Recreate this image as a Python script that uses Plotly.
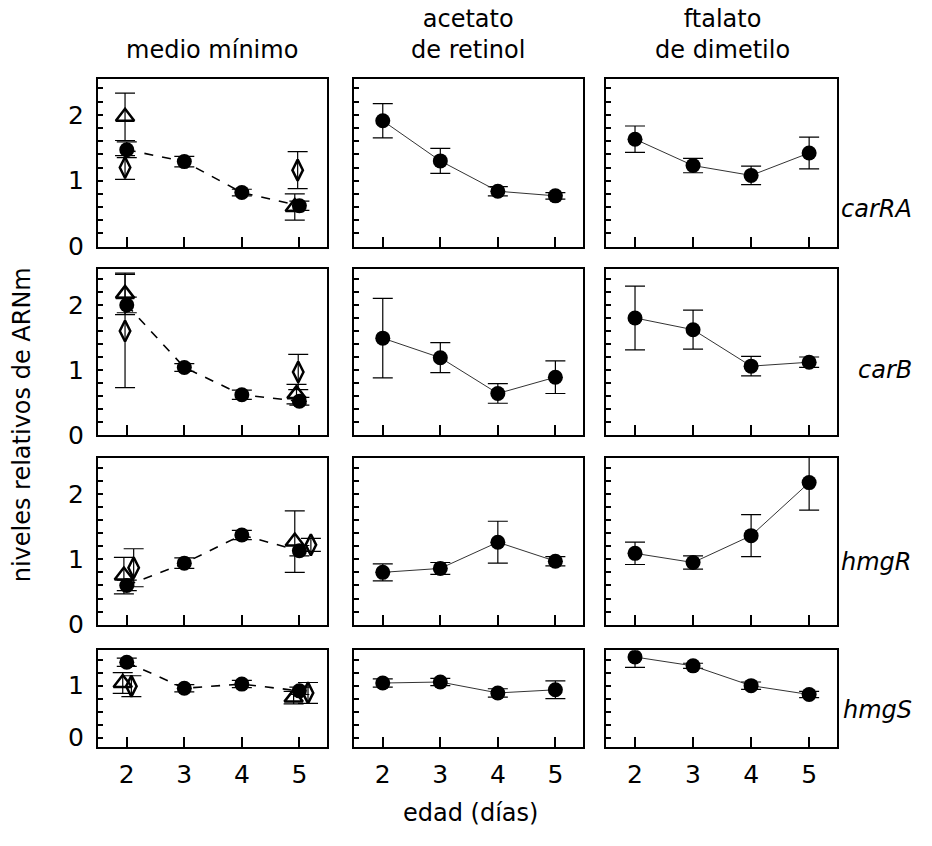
import plotly.graph_objects as go

# ---------------- data ----------------
days = [2, 3, 4, 5]
genes = ["carRA", "carB", "hmgR", "hmgS"]
conditions = ["medio mínimo", "acetato<br>de retinol", "ftalato<br>de dimetilo"]

# filled circles: mean values per condition -> gene
mm_mean = {
    "carRA": [1.47, 1.29, 0.82, 0.62],
    "carB": [2.00, 1.04, 0.62, 0.52],
    "hmgR": [0.60, 0.94, 1.37, 1.13],
    "hmgS": [1.45, 0.95, 1.03, 0.90],
}
mm_err = {
    "carRA": [0.12, 0.08, 0.05, 0.07],
    "carB": [0.12, 0.06, 0.07, 0.06],
    "hmgR": [0.08, 0.08, 0.07, 0.08],
    "hmgS": [0.08, 0.07, 0.07, 0.07],
}
ret_mean = {
    "carRA": [1.91, 1.30, 0.84, 0.77],
    "carB": [1.49, 1.19, 0.64, 0.89],
    "hmgR": [0.80, 0.86, 1.26, 0.97],
    "hmgS": [1.05, 1.07, 0.86, 0.92],
}
ret_err = {
    "carRA": [0.26, 0.19, 0.07, 0.05],
    "carB": [0.61, 0.23, 0.15, 0.25],
    "hmgR": [0.13, 0.09, 0.32, 0.07],
    "hmgS": [0.08, 0.07, 0.08, 0.17],
}
fta_mean = {
    "carRA": [1.63, 1.23, 1.08, 1.42],
    "carB": [1.80, 1.62, 1.06, 1.12],
    "hmgR": [1.09, 0.95, 1.36, 2.17],
    "hmgS": [1.55, 1.38, 1.00, 0.83],
}
fta_err = {
    "carRA": [0.20, 0.11, 0.14, 0.24],
    "carB": [0.49, 0.30, 0.15, 0.08],
    "hmgR": [0.17, 0.10, 0.32, 0.42],
    "hmgS": [0.20, 0.05, 0.07, 0.06],
}

# open symbols (medio mínimo only, days 2 and 5)
tri_day = {"carRA": [1.97, 4.92], "carB": [1.97, 4.95], "hmgR": [1.95, 4.92], "hmgS": [1.93, 4.90]}
tri_mean = {"carRA": [1.97, 0.60], "carB": [2.17, 0.63], "hmgR": [0.75, 1.27], "hmgS": [1.05, 0.77]}
tri_err = {"carRA": [0.36, 0.20], "carB": [0.32, 0.15], "hmgR": [0.28, 0.47], "hmgS": [0.20, 0.12]}
dia_day = {"carRA": [1.97, 4.97], "carB": [1.97, 4.98], "hmgR": [2.12, 5.20], "hmgS": [2.08, 5.15]}
dia_mean = {"carRA": [1.20, 1.16], "carB": [1.60, 0.97], "hmgR": [0.87, 1.22], "hmgS": [0.99, 0.86]}
dia_err = {"carRA": [0.18, 0.28], "carB": [0.87, 0.27], "hmgR": [0.29, 0.10], "hmgS": [0.20, 0.20]}

y_ticks_big = [0, 0.2, 0.4, 0.6, 0.8, 1.0, 1.2, 1.4, 1.6, 1.8, 2.0, 2.2, 2.4]
y_ticks_small = [0, 0.25, 0.5, 0.75, 1.0, 1.25, 1.5]

# ---------------- layout geometry ----------------
W, H = 932, 846
col_px = [(98, 327), (354, 583), (606, 837)]
row_px = [(80, 251), (274, 443), (466, 636), (662, 760)]

FONT = "DejaVu Sans"
fig = go.Figure()
layout = {}

means = [mm_mean, ret_mean, fta_mean]
errs = [mm_err, ret_err, fta_err]

idx = 0
for r, g in enumerate(genes):
    for c in range(3):
        idx += 1
        xa = "x" if idx == 1 else f"x{idx}"
        ya = "y" if idx == 1 else f"y{idx}"
        xkey = "xaxis" if idx == 1 else f"xaxis{idx}"
        ykey = "yaxis" if idx == 1 else f"yaxis{idx}"

        # line + circles
        fig.add_trace(go.Scatter(
            x=days, y=means[c][g], xaxis=xa, yaxis=ya, mode="lines+markers",
            line=dict(color="black" if c == 0 else "#333333",
                      width=1.6 if c == 0 else 1.0,
                      dash="dash" if c == 0 else "solid"),
            marker=dict(symbol="circle", size=15, color="black"),
            error_y=dict(type="data", array=errs[c][g], color="black",
                         thickness=1.2, width=10),
            showlegend=False, cliponaxis=False if (g == "hmgR" and c == 2) else True,
        ))
        if c == 0:
            fig.add_trace(go.Scatter(
                x=tri_day[g], y=tri_mean[g], xaxis=xa, yaxis=ya, mode="markers",
                marker=dict(symbol="triangle-up-open", size=16, color="black",
                            line=dict(width=2.5, color="black")),
                error_y=dict(type="data", array=tri_err[g], color="black",
                             thickness=1.2, width=10),
                showlegend=False,
            ))
            fig.add_trace(go.Scatter(
                x=dia_day[g], y=dia_mean[g], xaxis=xa, yaxis=ya, mode="markers",
                marker=dict(symbol="diamond-tall-open", size=15, color="black",
                            line=dict(width=2.5, color="black")),
                error_y=dict(type="data", array=dia_err[g], color="black",
                             thickness=1.2, width=10),
                showlegend=False,
            ))

        x0, x1 = col_px[c]
        y0, y1 = row_px[r]
        small = (g == "hmgS")
        yt = y_ticks_small if small else y_ticks_big
        ytext = [("0" if v == 0 else "1" if v == 1 else "2" if v == 2 else "") for v in yt]
        layout[xkey] = dict(
            domain=[x0 / W, x1 / W], anchor=ya, range=[1.5, 5.48],
            tickvals=days, ticktext=[str(d) for d in days],
            ticks="inside", ticklen=10, tickwidth=2, tickcolor="black",
            showticklabels=(r == 3), tickfont=dict(family=FONT, size=25, color="black"),
            ticklabelstandoff=4,
            showline=True, linewidth=2, linecolor="black", mirror=True,
            showgrid=False, zeroline=False, fixedrange=True,
        )
        layout[ykey] = dict(
            domain=[1 - y1 / H, 1 - y0 / H], anchor=xa,
            range=[-0.17, 1.68] if small else [0, 2.55],
            tickvals=yt, ticktext=ytext,
            ticks="inside", ticklen=5, tickwidth=1.5, tickcolor="black",
            showticklabels=(c == 0), tickfont=dict(family=FONT, size=25, color="black"),
            ticklabelstandoff=7,
            showline=True, linewidth=2, linecolor="black", mirror=True,
            showgrid=False, zeroline=False, fixedrange=True,
        )

annotations = []
title_x = [212, 468, 722]
for c, t in enumerate(conditions):
    annotations.append(dict(
        text=t, x=title_x[c] / W, y=1 - (67 / H), xref="paper", yref="paper",
        xanchor="center", yanchor="bottom", showarrow=False,
        font=dict(family=FONT, size=24, color="black"),
    ))
gene_y = [213, 377, 572, 723]
for r, g in enumerate(genes):
    annotations.append(dict(
        text=f"<i>{g}</i>", x=914 / W, y=1 - gene_y[r] / H, xref="paper", yref="paper",
        xanchor="right", yanchor="middle", showarrow=False,
        font=dict(family=FONT, size=24, color="black"),
    ))
annotations.append(dict(
    text="niveles relativos de ARNm", x=22 / W, y=1 - 433 / H, xref="paper", yref="paper",
    xanchor="center", yanchor="middle", textangle=-90, showarrow=False,
    font=dict(family=FONT, size=24, color="black"),
))
annotations.append(dict(
    text="edad (días)", x=470 / W, y=1 - 844 / H, xref="paper", yref="paper",
    xanchor="center", yanchor="bottom", showarrow=False,
    font=dict(family=FONT, size=24, color="black"),
))

fig.update_layout(
    width=W, height=H, margin=dict(l=0, r=0, t=0, b=0),
    paper_bgcolor="white", plot_bgcolor="white",
    annotations=annotations, showlegend=False,
    **layout,
)

fig.write_html("out.html", config={"displayModeBar": False})
